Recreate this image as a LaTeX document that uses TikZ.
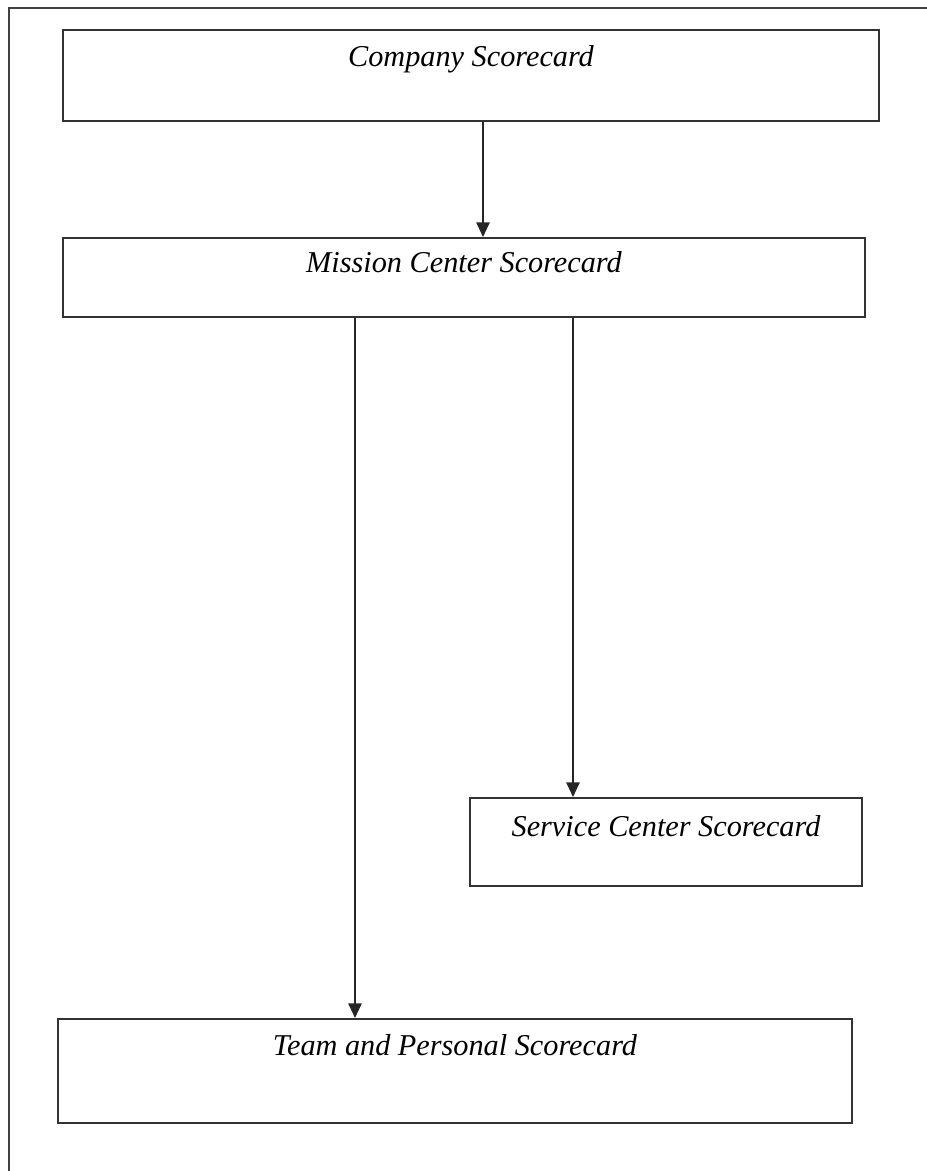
\documentclass[tikz,border=0pt]{standalone}
\usepackage{fontspec}
\setmainfont{Liberation Serif}
\usetikzlibrary{arrows.meta, positioning}

\begin{document}
\begin{tikzpicture}[x=0.75pt, y=-0.75pt]
        \tikzstyle{card} = [rectangle, anchor=north, inner sep=0pt, draw = black!80, line width=1.4pt, font=\itshape\fontsize{22.7}{27}\selectfont]
        \tikzstyle{connect} = [-{Triangle[length=11pt, width=10pt]}, line width=1.4pt, draw = black!85]
        \useasboundingbox (0,0) rectangle (927,1171);
        % page frame, cut off at the right and bottom
        \draw[line width=1.1pt, black!75] (9,1171) -- (9,8) -- (927,8);
        \node[card, minimum width=612pt, text height=27.75pt, text depth=40.5pt] (company) at (471,29) {Company Scorecard};
        \node[card, minimum width=601.5pt, text height=26.25pt, text depth=33pt] (mission) at (464,237) {Mission Center Scorecard};
        \node[card, minimum width=294pt, text height=29.25pt, text depth=36.75pt] (service) at (666,797) {Service Center Scorecard};
        \node[card, minimum width=595.5pt, text height=27.75pt, text depth=50.25pt] (team) at (455,1018) {Team and Personal Scorecard};
        \path (company.south -| 483,0) edge [connect] (mission.north -| 483,0)
        (mission.south -| 355,0) edge [connect] (team.north -| 355,0)
        (mission.south -| 573,0) edge [connect] (service.north -| 573,0);
      \end{tikzpicture}
\end{document}
